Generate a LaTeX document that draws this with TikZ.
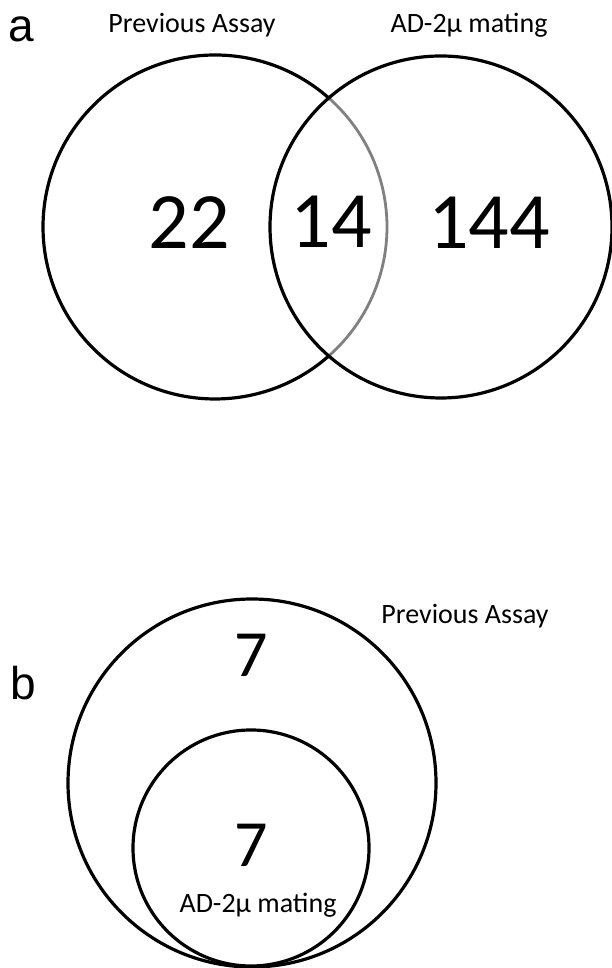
\documentclass[tikz,border=0pt]{standalone}
\usepackage{fontspec}
\setmainfont{Carlito}
\newfontfamily\panelfont{Liberation Sans}
\definecolor{arcgray}{RGB}{128,128,128}
\begin{document}
\begin{tikzpicture}[x=1pt,y=1pt,
  ring/.style={line width=3.2pt, draw=black},
  lbl/.style={font=\fontsize{28}{34}\selectfont, anchor=base, inner sep=0pt},
  num/.style={font=\fontsize{80}{96}\selectfont, anchor=base, inner sep=0pt},
  numb/.style={font=\fontsize{66}{80}\selectfont, anchor=base, inner sep=0pt},
  panel/.style={font=\panelfont\fontsize{46}{55}\selectfont, anchor=base, inner sep=0pt}]
\useasboundingbox (0,0) rectangle (611,968);
% panel a
\node[panel] (pa) at (21,926) {a};
\node[lbl] (la1) at (192,935) {Previous Assay};
\node[lbl] (la2) at (469,935) {AD-2µ mating};
\coordinate (L) at (215,741);
\coordinate (R) at (441,741);
\draw[ring] (L) ++(48.6:172pt) arc[start angle=48.6, end angle=311.4, radius=172pt];
\draw[line width=2.8pt, draw=arcgray] (L) ++(-48.6:172pt) arc[start angle=-48.6, end angle=48.6, radius=172pt];
\draw[ring] (R) circle[radius=171pt];
\node[num] (n22) at (189,719) {22};
\node[num] (n14) at (331,720) {14};
\node[num] (n144) at (489,719) {144};
% panel b
\node[panel] (pb) at (23,268) {b};
\coordinate (B) at (252,185);
\coordinate (S) at (251,120);
\draw[ring] (B) circle[radius=184pt];
\draw[ring] (S) circle[radius=118pt];
\node[lbl] (lb1) at (465,344) {Previous Assay};
\node[numb] (n7a) at (251,291) {7};
\node[numb] (n7b) at (251,101) {7};
\node[lbl] (lb2) at (258,55) {AD-2µ mating};
\end{tikzpicture}
\end{document}
